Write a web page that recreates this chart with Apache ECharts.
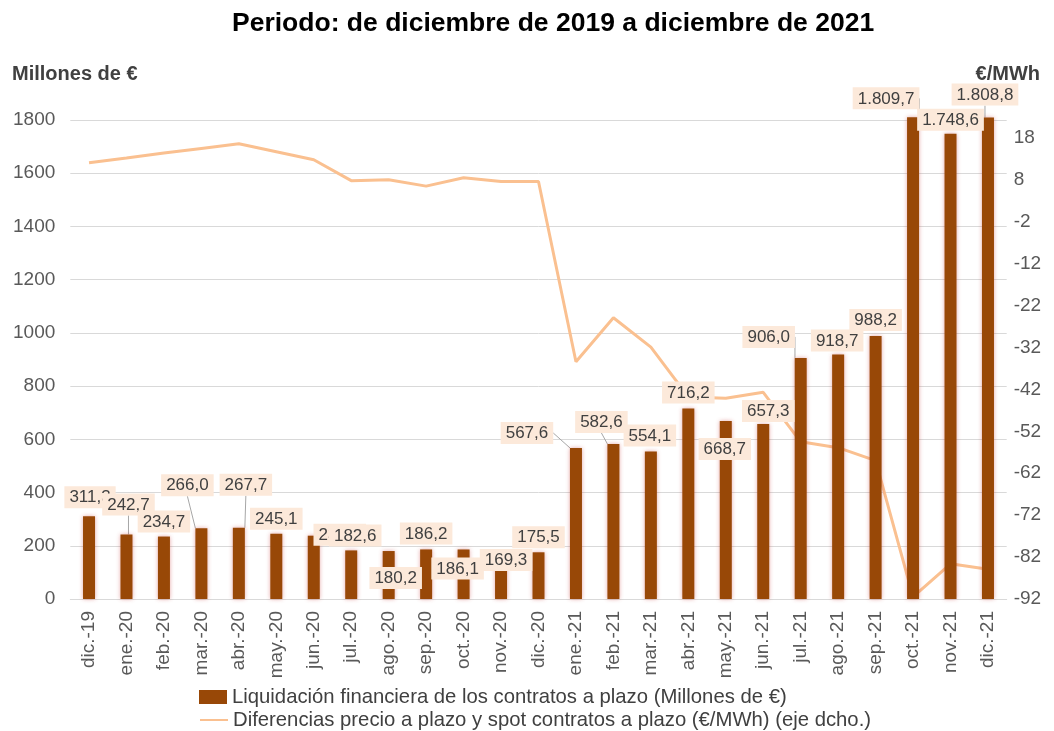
<!DOCTYPE html>
<html><head><meta charset="utf-8">
<script src="https://cdn.jsdelivr.net/npm/echarts@6/dist/echarts.min.js"></script>
<style>html,body{margin:0;padding:0;background:#fff}#c{width:1054px;height:731px}</style>
</head><body><div id="c"></div>
<script>
const categories = ['dic.-19','ene.-20','feb.-20','mar.-20','abr.-20','may.-20','jun.-20','jul.-20','ago.-20','sep.-20','oct.-20','nov.-20','dic.-20','ene.-21','feb.-21','mar.-21','abr.-21','may.-21','jun.-21','jul.-21','ago.-21','sep.-21','oct.-21','nov.-21','dic.-21'];
const liquidacion = [311.3,242.7,234.7,266.0,267.7,245.1,237.9,182.6,180.2,186.2,186.1,169.3,175.5,567.6,582.6,554.1,716.2,668.7,657.3,906.0,918.7,988.2,1809.7,1748.6,1808.8];
const diferencias = [12.1,13.2,14.4,15.5,16.6,14.7,12.8,7.8,8.0,6.5,8.5,7.6,7.6,-35.4,-24.9,-31.9,-43.8,-44.1,-42.7,-54.5,-55.9,-59.0,-91.5,-83.6,-84.9];
const leftTicks = {min: 0, max: 1890, interval: 200};
const rightTicks = {min: -92, max: 28, interval: 10};
const barName = 'Liquidación financiera de los contratos a plazo (Millones de €)';
const lineName = 'Diferencias precio a plazo y spot contratos a plazo (€/MWh) (eje dcho.)';

// label placement (style only)
const labelDx = [1,2,0,-14,7,0,26,4,7,0,-6,5,0,-49,-12,-1,0,-1,5,-32,-1,0,-27,0,-3];
const labelDy = [-3,-14,1,-27,-27,1,15,1,43,0,35,22,1,1,-6,0,0,44,3,-5,2,0,-3,2,-7];
const leader = [false,true,false,true,true,false,false,false,false,false,false,false,false,true,true,false,false,false,false,true,false,false,true,false,true];

function fmtEs(v){
  const parts = v.toFixed(1).split('.');
  parts[0] = parts[0].replace(/\B(?=(\d{3})+(?!\d))/g, '.');
  return parts[0] + ',' + parts[1];
}

const chart = echarts.init(document.getElementById('c'));
const FONT = 'Liberation Sans, Arial, sans-serif';
const legendText = {fontFamily: FONT, fontSize: 20.3, color: '#404040'};
chart.setOption({
  animation: false,
  textStyle: {fontFamily: FONT},
  title: [
    {text: 'Periodo: de diciembre de 2019 a diciembre de 2021', left: 227, top: 5,
     textStyle: {fontFamily: FONT, fontSize: 26.5, fontWeight: 'bold', color: '#000'}},
    {text: 'Millones de €', left: 7, top: 59,
     textStyle: {fontFamily: FONT, fontSize: 20, fontWeight: 'bold', color: '#404040'}},
    {text: '€/MWh', right: 9, top: 59,
     textStyle: {fontFamily: FONT, fontSize: 20, fontWeight: 'bold', color: '#404040'}}
  ],
  grid: {left: 70.3, right: 47.3, top: 96, bottom: 132, containLabel: false},
  legend: [
    {left: 199, top: 687, padding: 0, itemWidth: 28, itemHeight: 14, textStyle: legendText,
     data: [{name: barName, icon: 'rect'}]},
    {left: 199, top: 710, padding: 0, itemWidth: 28, itemHeight: 14, textStyle: legendText,
     data: [{name: lineName, itemStyle: {opacity: 0}}]}
  ],
  xAxis: {
    type: 'category', data: categories,
    axisLine: {lineStyle: {color: '#d9d9d9'}},
    axisTick: {show: false},
    axisLabel: {rotate: 90, fontSize: 19, color: '#595959', margin: 12, fontFamily: FONT}
  },
  yAxis: [
    {type: 'value', min: leftTicks.min, max: leftTicks.max, interval: leftTicks.interval,
     axisLabel: {fontSize: 19, color: '#595959', margin: 15, showMaxLabel: false, fontFamily: FONT,
                 formatter: v => String(v)},
     axisLine: {show: false}, axisTick: {show: false},
     splitLine: {lineStyle: {color: '#d9d9d9', width: 1}, showMaxLine: false}},
    {type: 'value', min: rightTicks.min, max: rightTicks.max, interval: rightTicks.interval,
     axisLabel: {fontSize: 19, color: '#595959', margin: 7, showMaxLabel: false, fontFamily: FONT,
                 formatter: v => String(v)},
     axisLine: {show: false}, axisTick: {show: false}, splitLine: {show: false}}
  ],
  series: [
    {
      name: barName,
      type: 'bar', yAxisIndex: 0, barWidth: 12,
      itemStyle: {color: '#984807', shadowBlur: 4, shadowColor: 'rgba(200,60,60,0.45)'},
      data: liquidacion.map((v, i) => ({value: v, labelLine: {show: leader[i]}})),
      label: {
        show: true, position: 'top', distance: 5,
        formatter: p => fmtEs(p.value),
        fontFamily: FONT, fontSize: 17, color: '#404040',
        backgroundColor: '#FCE9DA', padding: [3, 5, 2, 5]
      },
      labelLine: {show: false, lineStyle: {color: '#a6a6a6', width: 1}},
      labelLayout: p => ({dx: labelDx[p.dataIndex], dy: labelDy[p.dataIndex]}),
      z: 2
    },
    {
      name: lineName,
      type: 'line', yAxisIndex: 1, data: diferencias,
      symbol: 'none', lineStyle: {color: '#FAC090', width: 3}, itemStyle: {color: '#FAC090'},
      z: 1
    }
  ]
});
</script></body></html>
